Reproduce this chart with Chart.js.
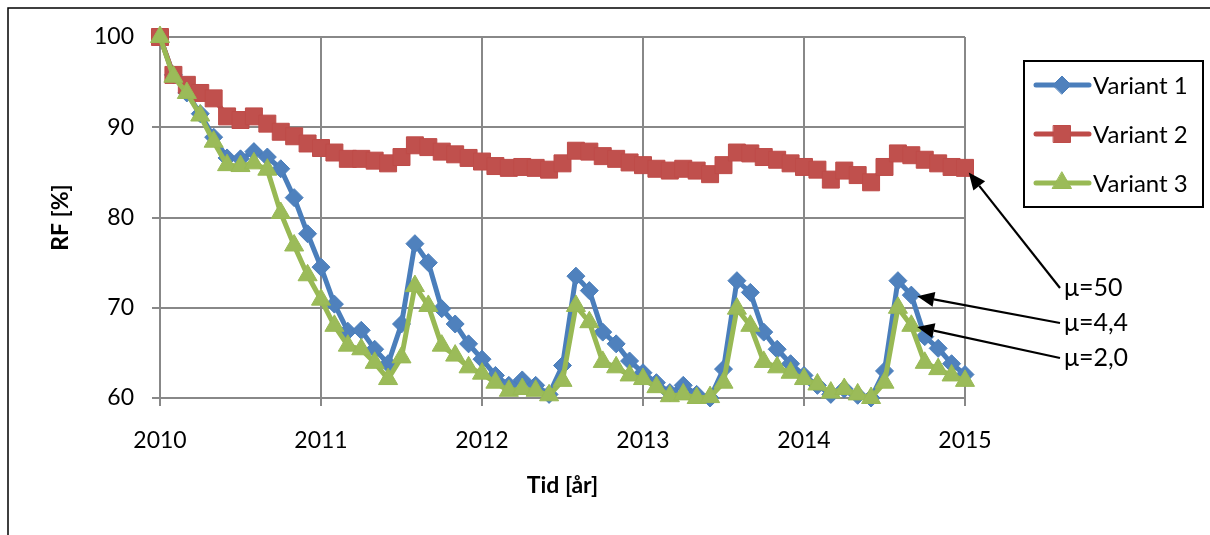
<!DOCTYPE html>
<html>
<head>
<meta charset="utf-8">
<script src="https://cdn.jsdelivr.net/npm/chart.js@4/dist/chart.umd.min.js"></script>
<style>
  html, body { margin: 0; padding: 0; background: #ffffff; }
  #wrap { width: 1210px; height: 535px; position: relative; }
</style>
</head>
<body>
<div id="wrap"><canvas id="rf" width="1210" height="535"></canvas></div>
<script>
// Monthly RF readings, January 2010 .. January 2015 (61 samples per variant)
const variant1 = [
  100, 95.8, 93.8, 91.5, 88.9, 86.6, 86.5, 87.3, 86.7, 85.4, 82.2, 78.2,
  74.5, 70.4, 67.4, 67.5, 65.4, 63.8, 68.2, 77.1, 75.0, 69.9, 68.2, 66.0,
  64.3, 62.5, 61.4, 62.0, 61.4, 60.4, 63.6, 73.5, 71.9, 67.3, 66.0, 64.1,
  62.8, 61.7, 60.6, 61.4, 60.4, 60.0, 63.2, 73.0, 71.7, 67.3, 65.4, 63.8,
  62.5, 61.4, 60.4, 61.0, 60.3, 60.0, 63.0, 73.0, 71.4, 66.8, 65.5, 63.8,
  62.6
];
const variant2 = [
  100, 95.8, 94.7, 93.8, 93.2, 91.2, 90.8, 91.2, 90.4, 89.5, 89.0, 88.2,
  87.7, 87.2, 86.5, 86.5, 86.3, 86.0, 86.7, 88.0, 87.8, 87.3, 87.0, 86.6,
  86.2, 85.7, 85.5, 85.6, 85.5, 85.3, 86.0, 87.4, 87.3, 86.8, 86.5, 86.1,
  85.8, 85.4, 85.2, 85.4, 85.2, 84.8, 85.8, 87.2, 87.1, 86.7, 86.4, 86.0,
  85.6, 85.3, 84.2, 85.2, 84.7, 83.9, 85.6, 87.1, 86.9, 86.4, 86.0, 85.6,
  85.5
];
const variant3 = [
  100, 95.6, 93.8, 91.3, 88.4, 85.8, 85.7, 86.0, 85.3, 80.5, 76.9, 73.6,
  70.9, 68.0, 65.8, 65.4, 63.9, 62.1, 64.5, 72.4, 70.2, 65.8, 64.7, 63.4,
  62.7, 61.7, 60.8, 61.0, 60.8, 60.3, 61.9, 70.2, 68.4, 64.0, 63.4, 62.5,
  62.1, 61.2, 60.2, 60.4, 60.0, 60.1, 61.7, 69.9, 68.0, 64.0, 63.4, 62.8,
  62.1, 61.5, 60.6, 61.0, 60.4, 60.0, 61.7, 70.0, 68.0, 63.9, 63.2, 62.5,
  61.9
];
const seriesNames = ['Variant 1', 'Variant 2', 'Variant 3'];
const yearLabels = ['2010', '2011', '2012', '2013', '2014', '2015'];
const monthsPerYear = 12;
const yTicks = [60, 70, 80, 90, 100];
const xTitle = 'Tid [år]';
const yTitle = 'RF [%]';
// Callouts: text, series index, sample index
const calloutTexts = ['μ=50', 'μ=4,4', 'μ=2,0'];
const calloutSeries = [1, 0, 2];
const calloutIndex = [60, 56, 56];

const FONT = 'Lato, "Open Sans", sans-serif';
const colors = [
  { line: '#4A7EBB', fill: '#4F81BD', shape: 'rectRot', r: 9 },
  { line: '#BE4B48', fill: '#C0504D', shape: 'rect', r: 12 },
  { line: '#98B954', fill: '#9BBB59', shape: 'triangle', r: 11 }
];
const allSeries = [variant1, variant2, variant3];

function toPoints(values) {
  return values.map((v, i) => ({ x: i, y: v }));
}

const datasets = allSeries.map((vals, k) => ({
  label: seriesNames[k],
  data: toPoints(vals),
  borderColor: colors[k].line,
  backgroundColor: colors[k].fill,
  borderWidth: 5,
  pointStyle: colors[k].shape,
  pointRadius: colors[k].r,
  pointBorderWidth: 1,
  pointBorderColor: colors[k].line,
  pointBackgroundColor: colors[k].fill,
  tension: 0,
  order: 3 - k,
  clip: 12
}));

const decor = {
  id: 'decor',
  afterDraw(chart) {
    const ctx = chart.ctx;
    const xs = chart.scales.x, ys = chart.scales.y;
    const area = chart.chartArea;
    ctx.save();

    // frame around the whole chart
    ctx.strokeStyle = '#000';
    ctx.lineWidth = 1.5;
    ctx.strokeRect(8, 8, 1400, 800);

    // axis titles
    ctx.fillStyle = '#000';
    ctx.font = 'bold 23px ' + FONT;
    ctx.textAlign = 'center';
    ctx.textBaseline = 'middle';
    ctx.fillText(xTitle, (area.left + area.right) / 2, 486);
    ctx.save();
    ctx.translate(61, (area.top + area.bottom) / 2);
    ctx.rotate(-Math.PI / 2);
    ctx.fillText(yTitle, 0, 0);
    ctx.restore();

    // legend
    const lx = 1024, ly = 61, lw = 179, lh = 146;
    ctx.lineWidth = 2;
    ctx.strokeStyle = '#000';
    ctx.strokeRect(lx, ly, lw, lh);
    const rowY = [85, 134, 183];
    ctx.font = '24px ' + FONT;
    ctx.textAlign = 'left';
    for (let k = 0; k < 3; k++) {
      const y = rowY[k];
      ctx.strokeStyle = colors[k].line;
      ctx.lineWidth = 5;
      ctx.lineCap = 'round';
      ctx.beginPath();
      ctx.moveTo(1036, y);
      ctx.lineTo(1089, y);
      ctx.stroke();
      ctx.fillStyle = colors[k].fill;
      ctx.strokeStyle = colors[k].line;
      ctx.lineWidth = 1;
      Chart.helpers.drawPoint(ctx, { pointStyle: colors[k].shape, radius: colors[k].r, rotation: 0, borderWidth: 1 }, 1062, y);
      ctx.fillStyle = '#000';
      ctx.fillText(seriesNames[k], 1093, y + 1);
    }

    // callouts with arrows
    const textY = [288, 323, 358];
    const startX = 1060;
    for (let c = 0; c < calloutTexts.length; c++) {
      const vals = allSeries[calloutSeries[c]];
      const px = xs.getPixelForValue(calloutIndex[c]);
      const py = ys.getPixelForValue(vals[calloutIndex[c]]);
      const sx = startX, sy = textY[c];
      const dx = sx - px, dy = sy - py;
      const len = Math.hypot(dx, dy);
      const ux = dx / len, uy = dy / len;
      const tipX = px + ux * 6, tipY = py + uy * 6;
      const headL = 17, headW = 7.5;
      const bx = tipX + ux * headL, by = tipY + uy * headL;
      ctx.strokeStyle = '#000';
      ctx.fillStyle = '#000';
      ctx.lineWidth = 2.2;
      ctx.lineCap = 'butt';
      ctx.beginPath();
      ctx.moveTo(sx, sy);
      ctx.lineTo(bx, by);
      ctx.stroke();
      ctx.beginPath();
      ctx.moveTo(tipX, tipY);
      ctx.lineTo(bx - uy * headW, by + ux * headW);
      ctx.lineTo(bx + uy * headW, by - ux * headW);
      ctx.closePath();
      ctx.fill();
      ctx.font = '25px ' + FONT;
      ctx.textAlign = 'left';
      ctx.textBaseline = 'middle';
      ctx.fillText(calloutTexts[c], 1064, sy);
    }
    ctx.restore();
  }
};

new Chart(document.getElementById('rf'), {
  type: 'line',
  data: { datasets },
  options: {
    responsive: false,
    animation: false,
    devicePixelRatio: 1,
    events: [],
    layout: { padding: { left: 0, top: 37, right: 245, bottom: 0 } },
    plugins: { legend: { display: false }, tooltip: { enabled: false } },
    scales: {
      x: {
        type: 'linear',
        min: 0,
        max: (yearLabels.length - 1) * monthsPerYear,
        afterFit: (s) => { s.height = 137; },
        afterBuildTicks: (s) => {
          s.ticks = yearLabels.map((_, i) => ({ value: i * monthsPerYear }));
        },
        ticks: {
          autoSkip: false,
          maxRotation: 0,
          padding: 21,
          color: '#000',
          font: { family: FONT, size: 23 },
          callback: (v) => yearLabels[Math.round(v / monthsPerYear)]
        },
        grid: { color: '#888888', lineWidth: 2, tickLength: 8, drawTicks: true },
        border: { color: '#888888', width: 2 }
      },
      y: {
        min: yTicks[0],
        max: yTicks[yTicks.length - 1],
        afterFit: (s) => { s.width = 160; },
        afterBuildTicks: (s) => { s.ticks = yTicks.map(v => ({ value: v })); },
        ticks: {
          padding: 18,
          color: '#000',
          font: { family: FONT, size: 23 }
        },
        grid: { color: '#888888', lineWidth: 2, tickLength: 8, drawTicks: true },
        border: { color: '#888888', width: 2 }
      }
    }
  },
  plugins: [decor]
});
</script>
</body>
</html>
